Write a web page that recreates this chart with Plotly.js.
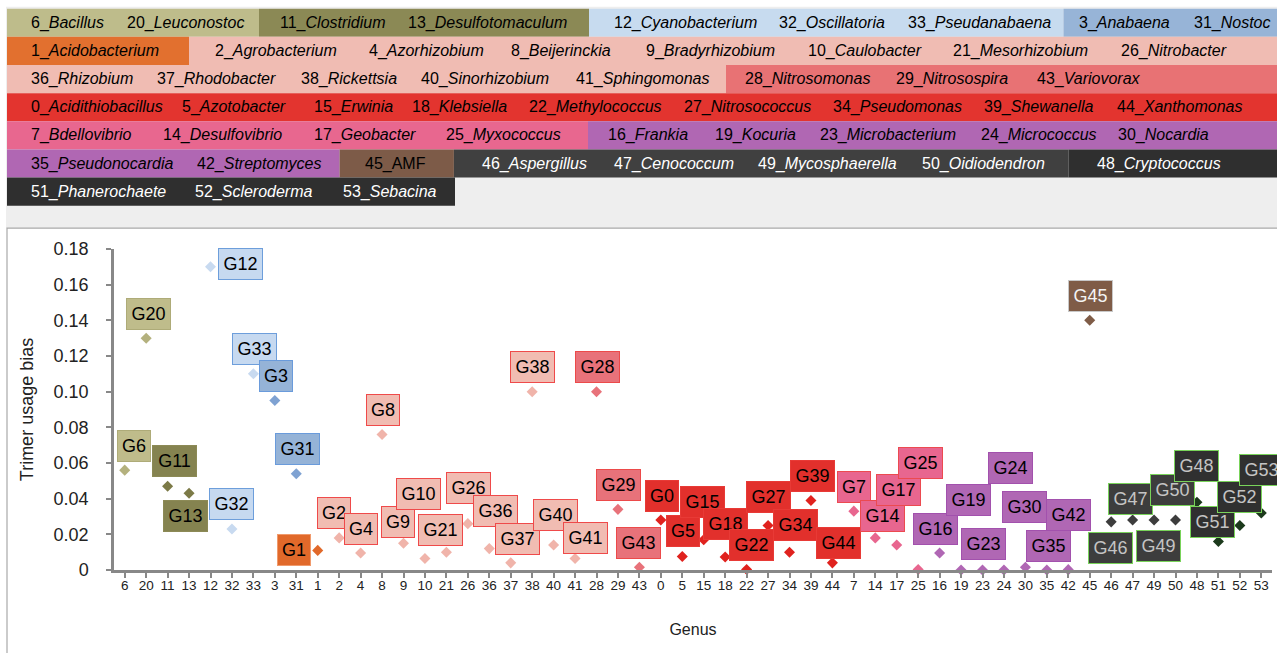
<!DOCTYPE html>
<html>
<head>
<meta charset="utf-8">
<script src="https://cdn.plot.ly/plotly-3.0.1.min.js"></script>
<style>
html,body{margin:0;padding:0;background:#fff;}
#chart{width:1277px;height:653px;}
</style>
</head>
<body>
<div id="chart"></div>
<script>
// ---------------- DATA ----------------
const genusIds = [6,20,11,13,12,32,33,3,31,1,2,4,8,9,10,21,26,36,37,38,40,41,28,29,43,0,5,15,18,22,27,34,39,44,7,14,17,25,16,19,23,24,30,35,42,45,46,47,49,50,48,51,52,53];
const trimerBias = [0.056,0.130,0.047,0.043,0.170,0.023,0.110,0.095,0.054,0.011,0.018,0.0095,0.076,0.015,0.0065,0.010,0.026,0.012,0.004,0.100,0.014,0.0065,0.100,0.034,0.0015,0.028,0.0076,0.017,0.0073,0.0003,0.025,0.010,0.039,0.004,0.033,0.018,0.014,0.0003,0.0095,0.0,0.0,0.0,0.0015,0.0,0.0002,0.140,0.027,0.028,0.028,0.028,0.038,0.016,0.025,0.032];
const genusGroup = ['A','A','B','B','C','C','C','D','D','E','F','F','F','F','F','F','F','F','F','F','F','F','G','G','G','H','H','H','H','H','H','H','H','H','I','I','I','I','J','J','J','J','J','J','J','K','L','L','L','L','M','M','M','M'];
const yTickVals = [0,0.02,0.04,0.06,0.08,0.10,0.12,0.14,0.16,0.18];
const yTickText = ['0','0.02','0.04','0.06','0.08','0.10','0.12','0.14','0.16','0.18'];
const xTitle = 'Genus';
const yTitle = 'Trimer usage bias';

// legend table: text of each cell, and the group giving its colour
const legendCellText = [
  ['6_<i>Bacillus</i>','20_<i>Leuconostoc</i>'],
  ['11_<i>Clostridium</i>','13_<i>Desulfotomaculum</i>'],
  ['12_<i>Cyanobacterium</i>','32_<i>Oscillatoria</i>','33_<i>Pseudanabaena</i>'],
  ['3_<i>Anabaena</i>','31_<i>Nostoc</i>'],
  ['1_<i>Acidobacterium</i>'],
  ['2_<i>Agrobacterium</i>','4_<i>Azorhizobium</i>','8_<i>Beijerinckia</i>','9_<i>Bradyrhizobium</i>','10_<i>Caulobacter</i>','21_<i>Mesorhizobium</i>','26_<i>Nitrobacter</i>'],
  ['36_<i>Rhizobium</i>','37_<i>Rhodobacter</i>','38_<i>Rickettsia</i>','40_<i>Sinorhizobium</i>','41_<i>Sphingomonas</i>'],
  ['28_<i>Nitrosomonas</i>','29_<i>Nitrosospira</i>','43_<i>Variovorax</i>'],
  ['0_<i>Acidithiobacillus</i>','5_<i>Azotobacter</i>','15_<i>Erwinia</i>','18_<i>Klebsiella</i>','22_<i>Methylococcus</i>','27_<i>Nitrosococcus</i>','34_<i>Pseudomonas</i>','39_<i>Shewanella</i>','44_<i>Xanthomonas</i>'],
  ['7_<i>Bdellovibrio</i>','14_<i>Desulfovibrio</i>','17_<i>Geobacter</i>','25_<i>Myxococcus</i>'],
  ['16_<i>Frankia</i>','19_<i>Kocuria</i>','23_<i>Microbacterium</i>','24_<i>Micrococcus</i>','30_<i>Nocardia</i>'],
  ['35_<i>Pseudonocardia</i>','42_<i>Streptomyces</i>'],
  ['45_AMF'],
  ['46_<i>Aspergillus</i>','47_<i>Cenococcum</i>','49_<i>Mycosphaerella</i>','50_<i>Oidiodendron</i>'],
  ['48_<i>Cryptococcus</i>'],
  ['51_<i>Phanerochaete</i>','52_<i>Scleroderma</i>','53_<i>Sebacina</i>']
];
const legendCellGroup = ['A','B','C','D','E','F','F','G','H','I','J','J','K','L','M','M'];

// ---------------- POSITIONS / STYLES ----------------
// label offsets (px) relative to each marker, in genus order
const labelDx = [9,2,7,-4,30,0,0.7,1,1,-24,-5.6,0.7,0.7,-5.3,-6.3,-5.9,0.8,6.5,6.6,0.2,2.2,10.4,0.7,0.9,-0.7,1,0.6,-1.3,0.7,4.8,0.5,6.3,1.2,6.3,0.4,7,2.1,2.2,-3.8,7.8,0.5,6.1,-0.7,2.1,-0.2,0.9,-0.8,-1.7,4.4,-2.6,-0.7,-5.5,-0.5,0];
const labelDy = [24.3,24.3,24.7,-22.5,3.3,24.7,24.8,25,24.8,0,24.7,24.3,24.7,21.3,64.4,22.3,35.3,37.3,23.8,24.7,30.3,20.4,24.7,24.7,23.9,23.7,25,38,33.1,24.7,28,27,24.3,19.5,24.3,22.4,55.3,106.3,23.8,69.8,26,101.8,60.7,24.3,54.5,24.3,-25.9,21,-26.2,29.7,36.7,19,28.7,43.2];
// legend cell geometry: row index, x0, x1 (px), x of each text item (px)
const legendCellRow = [0,0,0,0,1,1,2,2,3,4,4,5,5,5,5,6];
const legendCellX0 = [7,259,589,1063.5,7,189,7,726,7,7,588,7,339.6,453.9,1068.4,7];
const legendCellX1 = [259,589,1063.5,1277,189,1277,726,1277,1277,588,1277,339.6,453.9,1068.4,1277,455];
const legendItemX = [
  [30.6,126.5],[279.6,408],[613.5,778.6,907.6],[1079,1194],[30.6],
  [215,368.6,511,646,808.4,953.3,1120.7],[30.6,157,300.8,421,575.5],[745,896,1037],
  [30.6,182.4,313.5,412,529.4,684,833,984,1116.6],[30.6,163,314,446],[608,714.6,819.9,981,1117.8],
  [30.6,197],[364.5],[481.6,614,758,921.5],[1097],[30.6,194.7,342.9]
];
const rowTop = 9, rowH = 28.15;

const style = {
  A:{fill:'#bfbc8b', border:'#aeab78', marker:'#b4b17e', text:'#000', cell:'#bebc8b', cellText:'#000'},
  B:{fill:'#858350', border:'#8c8a56', marker:'#7c7a47', text:'#000', cell:'#8b8955', cellText:'#000'},
  C:{fill:'#c6d9f0', border:'#6d9edb', marker:'#c8daf0', text:'#000', cell:'#c7dbef', cellText:'#000'},
  D:{fill:'#95b3d7', border:'#6a9bdb', marker:'#7fa2d2', text:'#000', cell:'#97b4d7', cellText:'#000'},
  E:{fill:'#e1692a', border:'#f09a6c', marker:'#e1692a', text:'#000', cell:'#e2702f', cellText:'#000'},
  F:{fill:'#f1bcb2', border:'#ef4a4a', marker:'#f0b4aa', text:'#000', cell:'#f0bcb3', cellText:'#000'},
  G:{fill:'#e8727a', border:'#ec4a4a', marker:'#e8727a', text:'#000', cell:'#e87274', cellText:'#000'},
  H:{fill:'#e2302c', border:'#e83a36', marker:'#e0221e', text:'#000', cell:'#e3342f', cellText:'#000'},
  I:{fill:'#e8668f', border:'#ec4a50', marker:'#e8668f', text:'#000', cell:'#e8678f', cellText:'#000'},
  J:{fill:'#b067b4', border:'#a251ad', marker:'#b067b4', text:'#000', cell:'#b067b3', cellText:'#000'},
  K:{fill:'#7f5c47', border:'#c8c8c8', marker:'#7f5c47', text:'#f4f4f4', cell:'#7d5b48', cellText:'#000'},
  L:{fill:'#3d3d3d', border:'#79d35a', marker:'#3d3d3d', text:'#c4c4c4', cell:'#404040', cellText:'#fff'},
  M:{fill:'#303030', border:'#79d35a', marker:'#1c3a1c', text:'#c4c4c4', cell:'#2f2f2f', cellText:'#fff'}
};

const FONT = 'Arial, "Liberation Sans", sans-serif';
const W = 1277, H = 653, ML = 114, MR = 5, MT = 249.3, MB = 82.7;
const PW = W - ML - MR, PH = H - MT - MB;
const px2x = p => (p - ML) / PW;
const py2y = p => (H - MB - p) / PH;

const xCats = genusIds.map(String);

const trace = {
  type: 'scatter', mode: 'markers',
  x: xCats, y: trimerBias,
  marker: {symbol: 'diamond', size: 8.5, color: genusGroup.map(g => style[g].marker), line: {width: 0}},
  cliponaxis: false, hoverinfo: 'x+y', showlegend: false
};

const shapes = [];
const annotations = [];

// grey background behind legend table
shapes.push({type:'rect', xref:'paper', yref:'paper', x0:px2x(6), x1:px2x(1290), y0:py2y(228.5), y1:py2y(7), fillcolor:'#eeeeee', line:{width:0}, layer:'below'});
// chart panel border
shapes.push({type:'rect', xref:'paper', yref:'paper', x0:px2x(7), x1:px2x(1300), y0:py2y(700), y1:py2y(228.5), fillcolor:'#ffffff', line:{color:'#a9a9a9', width:1.2}, layer:'below'});

legendCellText.forEach((items, i) => {
  const r = legendCellRow[i];
  const y0 = rowTop + r*rowH, y1 = y0 + rowH;
  const st = style[legendCellGroup[i]];
  shapes.push({type:'rect', xref:'paper', yref:'paper', x0:px2x(legendCellX0[i]), x1:px2x(legendCellX1[i]), y0:py2y(y1), y1:py2y(y0), fillcolor:st.cell, line:{width:0}, layer:'below'});
  items.forEach((t, k) => {
    annotations.push({xref:'paper', yref:'paper', x:px2x(legendItemX[i][k]-1), y:py2y((y0+y1)/2), xanchor:'left', yanchor:'middle', text:t, showarrow:false, font:{family:FONT, size:16, color:st.cellText}, borderpad:0});
  });
});

// data labels: category axis, so position by category index
genusIds.forEach((g, i) => {
  const st = style[genusGroup[i]];
  const label = 'G' + g;
  annotations.push({
    x: i, y: trimerBias[i], xref:'x', yref:'y',
    text: label, showarrow: false,
    xshift: labelDx[i], yshift: labelDy[i],
    xanchor:'center', yanchor:'middle',
    width: label.length === 2 ? 25 : 36, height: 23, align: 'center', valign: 'middle',
    font: {family: FONT, size: 18, color: st.text},
    bgcolor: st.fill, bordercolor: st.border, borderwidth: 1, borderpad: 3.5
  });
});

const layout = {
  width: W, height: H,
  margin: {l: ML, r: MR, t: MT, b: MB, pad: 0},
  paper_bgcolor: '#ffffff', plot_bgcolor: 'rgba(0,0,0,0)',
  font: {family: FONT, color: '#222'},
  showlegend: false,
  xaxis: {
    type: 'category', categoryorder: 'array', categoryarray: xCats,
    range: [-0.5, genusIds.length - 0.5],
    showline: true, linecolor: '#888888', linewidth: 2.5,
    ticks: 'outside', ticklen: 5, tickwidth: 1.5, tickcolor: '#888888',
    tickfont: {family: FONT, size: 13.5, color: '#222'},
    ticklabelstandoff: -4,
    showgrid: false, zeroline: false, automargin: false,
    title: {text: xTitle, font: {family: FONT, size: 16, color: '#222'}, standoff: 32}
  },
  yaxis: {
    range: [0, 0.18],
    tickvals: yTickVals, ticktext: yTickText,
    showline: true, linecolor: '#888888', linewidth: 2.5,
    ticks: 'outside', ticklen: 5, tickwidth: 1.5, tickcolor: '#888888',
    tickfont: {family: FONT, size: 18, color: '#222'},
    ticklabelstandoff: 14,
    showgrid: false, zeroline: false, automargin: false,
    title: {text: yTitle, font: {family: FONT, size: 18, color: '#222'}, standoff: 16}
  },
  shapes: shapes,
  annotations: annotations
};

Plotly.newPlot('chart', [trace], layout, {displayModeBar: false, staticPlot: false});
</script>
</body>
</html>
